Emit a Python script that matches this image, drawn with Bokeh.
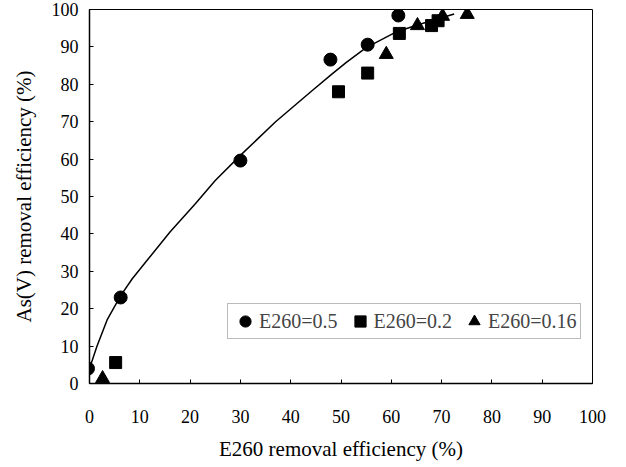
from bokeh.plotting import figure
from bokeh.models import Range1d, Legend, LegendItem, FixedTicker
from bokeh.embed import file_html
from bokeh.resources import INLINE

# E260 = 0.5 (circles)
c_x = [-0.3, 6.2, 30.0, 47.9, 55.3, 61.4]
c_y = [4.0, 23.0, 59.6, 86.6, 90.6, 98.4]
# E260 = 0.2 (squares)
s_x = [5.2, 49.5, 55.3, 61.6, 68.0, 69.3]
s_y = [5.6, 78.0, 83.0, 93.6, 95.7, 97.0]
# E260 = 0.16 (triangles)
t_x = [2.6, 59.0, 65.2, 70.2, 75.1]
t_y = [1.3, 88.0, 95.7, 98.2, 98.7]
# fitted curve
fit_x = [0.0, 1.5, 3.5, 6.2, 8.5, 11.5, 16.0, 21.0, 25.0, 30.0, 37.0, 44.0, 48.0, 51.0, 55.0, 61.0, 65.0, 72.5]
fit_y = [4.0, 10.0, 17.0, 23.5, 28.0, 33.0, 40.5, 48.0, 54.3, 61.0, 70.0, 78.0, 82.5, 85.8, 89.8, 94.0, 95.8, 98.8]

x_ticks = [0, 10, 20, 30, 40, 50, 60, 70, 80, 90, 100]
y_ticks = [0, 10, 20, 30, 40, 50, 60, 70, 80, 90, 100]
labels = ["E260=0.5", "E260=0.2", "E260=0.16"]

FONT = "Liberation Serif"

p = figure(width=626, height=467, output_backend="svg", toolbar_location=None,
           x_range=Range1d(0, 100), y_range=Range1d(0, 100),
           min_border_left=89, min_border_right=34, min_border_top=9, min_border_bottom=84)
p.background_fill_color = "white"
p.border_fill_color = "white"
p.outline_line_color = "black"
p.outline_line_width = 1
p.grid.visible = False

for ax, ticks in ((p.xaxis[0], x_ticks), (p.yaxis[0], y_ticks)):
    ax.ticker = FixedTicker(ticks=ticks)
    ax.major_tick_in = 4
    ax.major_tick_out = 0
    ax.minor_tick_in = 0
    ax.minor_tick_out = 0
    ax.axis_line_color = "black"
    ax.axis_line_width = 1.5
    ax.major_tick_line_color = "black"
    ax.major_label_text_font = FONT
    ax.major_label_text_font_size = "18px"
    ax.major_label_text_color = "black"
    ax.axis_label_text_font = FONT
    ax.axis_label_text_font_size = "21px"
    ax.axis_label_text_font_style = "normal"
    ax.axis_label_text_color = "black"

p.xaxis.axis_label = "E260 removal efficiency (%)"
p.yaxis.axis_label = "As(V) removal efficiency (%)"
p.xaxis.major_label_standoff = 26
p.xaxis.axis_label_standoff = 11
p.yaxis.major_label_standoff = 11
p.yaxis.axis_label_standoff = 13

p.line(fit_x, fit_y, line_color="black", line_width=1.5)
rc = p.scatter(c_x, c_y, marker="circle", size=13, fill_color="black", line_color="black")
rs = p.scatter(s_x, s_y, marker="square", size=12, fill_color="black", line_color="black")
rt = p.scatter(t_x, t_y, marker="triangle", size=14, fill_color="black", line_color="black")

legend = Legend(items=[LegendItem(label=labels[0], renderers=[rc]),
                       LegendItem(label=labels[1], renderers=[rs]),
                       LegendItem(label=labels[2], renderers=[rt])],
                orientation="horizontal", location=(138, 44),
                glyph_width=28, glyph_height=28, label_standoff=0, spacing=8,
                padding=3, margin=0,
                label_text_font=FONT, label_text_font_size="20px",
                border_line_color="#777777", border_line_width=1,
                background_fill_color="white", background_fill_alpha=1)
p.add_layout(legend, "center")

open("out.html", "w").write(file_html(p, INLINE))
